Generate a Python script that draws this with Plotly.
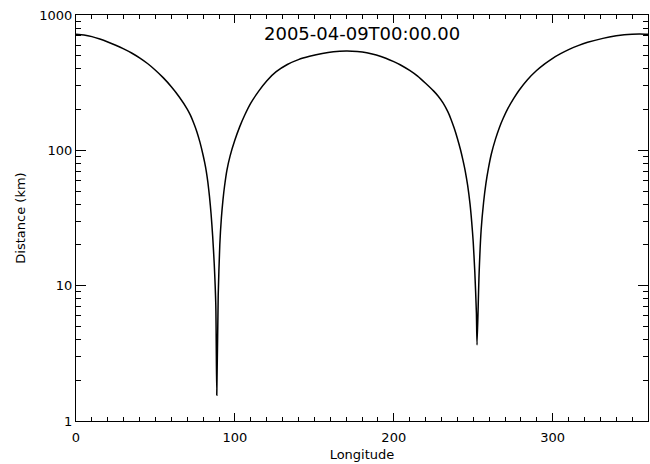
import plotly.graph_objects as go

longitude = [0, 5, 10, 15, 20, 25, 30, 35, 40, 45, 50, 55, 60, 65, 70, 72, 74, 76, 78, 80,
             81, 82, 83, 84, 85, 86, 87, 88, 88.6,
             89.5, 90.5, 91.5, 92.5, 93.5, 95, 97, 100, 103, 106, 110, 115, 120, 126,
             133, 140, 147, 155, 162, 170, 177, 183, 189, 195, 200, 204, 210, 215, 220,
             225, 228, 231, 234, 236, 238, 240, 242, 243.5, 245, 246.5, 248, 249, 250,
             251, 252, 252.4,
             253.7, 255, 256.5, 258, 259.5, 261.4, 264, 266.5, 268.8, 272, 275.5, 279,
             284, 289.7, 295, 300, 305, 310.7, 316, 322, 331.6, 340, 345, 350, 355, 360]
distance = [720, 711, 692, 664, 632, 598, 562, 524, 482, 438, 391, 343, 295, 248, 202, 182, 160, 138, 115, 92,
            81, 70, 58, 45.7, 34, 23.4, 14.5, 7.1, 1.55,
            8.5, 20, 31.6, 43, 54.5, 71.5, 91, 119, 149, 180, 223, 274, 326, 381,
            431, 468, 495, 520, 535, 542, 538, 527, 506, 479, 452, 429, 389, 353, 313,
            275, 251, 224, 193, 170, 146, 123, 101, 85, 70, 55, 40, 30, 21,
            12.6, 6.3, 3.65,
            12.3, 26, 41, 57, 73, 94, 121, 147.6, 171.8, 205.6, 242, 279,
            331, 387, 435, 479, 518, 560, 594, 628, 672, 702, 715, 722, 724, 721]

title_text = "2005-04-09T00:00.00"
x_label = "Longitude"
y_label = "Distance (km)"
x_ticks = [0, 100, 200, 300]
y_ticks = [1, 10, 100, 1000]

FONT = "DejaVu Sans"

fig = go.Figure()
fig.add_trace(go.Scatter(x=longitude, y=distance, mode="lines",
                         line=dict(color="black", width=1.5, shape="spline", smoothing=0.6),
                         showlegend=False))

fig.update_layout(
    width=650, height=464,
    margin=dict(l=76, r=2, t=15, b=43),
    paper_bgcolor="white", plot_bgcolor="white",
    font=dict(family=FONT, size=13, color="black"),
)
fig.update_xaxes(
    range=[0, 360], tickvals=x_ticks, ticktext=[str(v) for v in x_ticks],
    ticks="inside", ticklen=8, tickwidth=1, tickcolor="black",
    minor=dict(dtick=10, ticks="inside", ticklen=4, tickcolor="black", showgrid=False),
    showline=True, linecolor="black", linewidth=1, mirror="ticks",
    showgrid=False, zeroline=False,
    tickfont=dict(family=FONT, size=13),
    ticklabelstandoff=4,
    title=dict(text=x_label, font=dict(family=FONT, size=13), standoff=6),
)
fig.update_yaxes(
    type="log", range=[0, 3], tickvals=y_ticks, ticktext=[str(v) for v in y_ticks],
    ticks="inside", ticklen=10, tickwidth=1, tickcolor="black",
    minor=dict(dtick="D1", ticks="inside", ticklen=5, tickcolor="black", showgrid=False),
    showline=True, linecolor="black", linewidth=1, mirror="ticks",
    showgrid=False, zeroline=False,
    tickfont=dict(family=FONT, size=13),
    title=dict(text=y_label, font=dict(family=FONT, size=13), standoff=10),
)
fig.add_annotation(text=title_text, xref="paper", yref="paper", x=0.5, y=0.955,
                   xanchor="center", yanchor="middle", showarrow=False,
                   font=dict(family=FONT, size=18, color="black"))

fig.write_html("out.html")
